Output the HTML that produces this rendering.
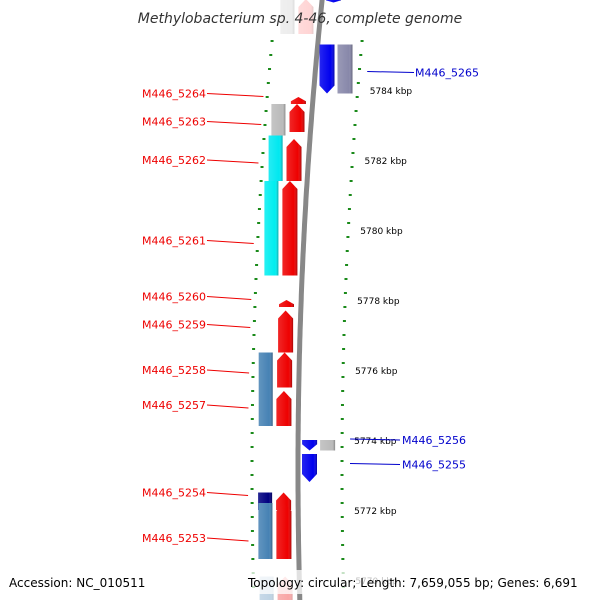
<!DOCTYPE html>
<html><head><meta charset="utf-8"><style>
body{margin:0;background:#fff}
svg text{font-family:"DejaVu Sans","Liberation Sans",sans-serif}
</style></head><body>
<svg id="map" width="600" height="600" viewBox="0 0 600 600" xmlns="http://www.w3.org/2000/svg">
<defs>
<linearGradient id="shade" x1="0" x2="1" y1="0" y2="0">
<stop offset="0" stop-color="#fff" stop-opacity="0.15"/><stop offset="0.75" stop-color="#fff" stop-opacity="0"/><stop offset="1" stop-color="#000" stop-opacity="0.3"/>
</linearGradient>
</defs>
<g id="ticks"></g>
<path id="backbone" fill="none" stroke="#888" stroke-width="5"/>
<g id="genes"></g>
<g id="labels"></g>
<text x="300" y="23" text-anchor="middle" font-size="14" font-style="italic" fill="#333">Methylobacterium sp. 4-46, complete genome</text>
<rect x="0" y="570" width="600" height="24" fill="#fff" opacity="0.75"/>
<text x="9" y="587" font-size="12" fill="#000">Accession: NC_010511</text>
<text x="248" y="587" font-size="12" fill="#000">Topology: circular; Length: 7,659,055 bp; Genes: 6,691</text>
</svg>
<script>
const tickKbp=[5784,5782,5780,5778,5776,5774,5772,5770];
const geneNames=["top-a","top-b","M446_5265","M446_5265b","top-c","M446_5264","M446_5263","M446_5263b","M446_5262","M446_5262b","M446_5261","M446_5261b","M446_5260","M446_5259","M446_5258","M446_5258b","M446_5257","M446_5256","M446_5256b","M446_5255","M446_5254","M446_5254b","M446_5253","M446_5253b","bot-a","bot-b"];
const geneStart=[5786.6,5786.6,5785.3,5785.3,5786.6,5783.8,5783.6,5783.6,5782.7,5782.6,5781.4,5781.4,5778.0,5777.7,5776.5,5776.5,5775.4,5774.0,5774.0,5773.6,5772.5,5772.5,5772.2,5772.2,5770.1,5770.1];
const geneEnd=[5785.6,5785.6,5783.9,5783.9,5786.5,5783.6,5782.7,5782.8,5781.4,5781.4,5778.7,5778.7,5777.8,5776.5,5774.4,5775.5,5774.4,5773.7,5773.7,5772.8,5772.0,5772.0,5770.6,5770.6,5769.2,5769.2];
const geneTrack=[-2,-1,1,2,1,-1,-2,-1,-2,-1,-2,-1,-1,-1,-2,-1,-1,1,2,1,-2,-1,-2,-1,-2,-1];
const geneColor=["#ccc","#f88","#0000ee","#8888aa","#0000ee","#e00","#bbb","#e00","#00e8f0","#e00","#00eef0","#e00","#e00","#e00","#4682b4","#e00","#e00","#0000ee","#bbb","#0000ee","#000080","#e00","#4682b4","#e00","#4682b4","#e00"];
const geneArrow=[0,1,-1,0,-1,1,0,1,0,1,0,1,1,1,0,1,1,-1,0,-1,0,1,0,1,0,1];
const geneFade=[1,1,0,0,0,0,0,0,0,0,0,0,0,0,0,0,0,0,0,0,0,0,0,0,1,1];
const leftLabels=["M446_5264","M446_5263","M446_5262","M446_5261","M446_5260","M446_5259","M446_5258","M446_5257","M446_5254","M446_5253"];
const leftLabelKbp=[5783.9,5783.1,5782.0,5779.7,5778.1,5777.3,5776.0,5775.0,5772.5,5771.2];
const rightLabels=["M446_5265","M446_5256","M446_5255"];
const rightLabelKbp=[5784.5,5774.0,5773.3];

const NS="http://www.w3.org/2000/svg";
const yOf=k=>90+(5784-k)*35;
const xb=y=>298+1.09e-4*(y-470)*(y-470);
function mk(t,a,p){const e=document.createElementNS(NS,t);for(const k in a)e.setAttribute(k,a[k]);p.appendChild(e);return e;}
// backbone
let d="";for(let y=-5;y<=605;y+=5)d+=(y<0?"M":"L")+xb(y).toFixed(1)+","+y+" ";
document.getElementById('backbone').setAttribute('d',d);
// ticks
const tg=document.getElementById('ticks');
for(let i=0;i<60;i++){
  const k=5787-i*0.4;const y=yOf(k);if(y<30||y>600)continue;
  const major=Math.abs(k-Math.round(k))<0.01&&Math.round(k)%2===0;
  const w=major?7:3;const xl=xb(y)-46,xr=xb(y)+44;
  const a=mk('rect',{x:xl-w/2,y:y-1,width:w,height:2,fill:'#1a8a1a'},tg);
  
  
  const b=mk('rect',{x:xr-w/2,y:y-1,width:w,height:2,fill:'#1a8a1a'},tg);
  
  
}
tickKbp.forEach(k=>{const y=yOf(k);
  const t=mk('text',{x:xb(y)+56,y:y+4,'font-size':9,fill:'#000'},tg);t.textContent=k+" kbp";
  
  
});
// genes
const gg=document.getElementById('genes');
geneNames.forEach((n,i)=>{
  const y1=yOf(geneStart[i]),y2=yOf(geneEnd[i]);const ym=(y1+y2)/2;const c=xb(ym);
  const tr=geneTrack[i];
  const off={'-2':[-40,-26],'-1':[-22,-7],'1':[4,19],'2':[22,37]}[tr];
  const x1=c+off[0],x2=c+off[1];const h=y2-y1;const ah=Math.min(8,h*0.6);
  let pts;
  if(geneArrow[i]===1)pts=[[x1,y2],[x1,y1+ah],[(x1+x2)/2,y1],[x2,y1+ah],[x2,y2]];
  else if(geneArrow[i]===-1)pts=[[x1,y1],[x2,y1],[x2,y2-ah],[(x1+x2)/2,y2],[x1,y2-ah]];
  else pts=[[x1,y1],[x2,y1],[x2,y2],[x1,y2]];
  const g=mk('g',{opacity:geneFade[i]?0.35:1},gg);
  
  
  const ps=pts.map(p=>p.map(v=>v.toFixed(1)).join(',')).join(' ');
  mk('polygon',{points:ps,fill:geneColor[i]},g);
  mk('polygon',{points:ps,fill:'url(#shade)'},g);
});
// labels
const lg=document.getElementById('labels');
leftLabels.forEach((n,i)=>{const y=yOf(leftLabelKbp[i]);
  const t=mk('text',{x:206,y:y+4,'text-anchor':'end','font-size':11,fill:'#e00'},lg);t.textContent=n;
  
  
  const l=mk('line',{x1:207,y1:y,x2:xb(y)-50,y2:y+3,stroke:'#e00','stroke-width':1},lg);
  
  
});
rightLabels.forEach((n,i)=>{const y=yOf(rightLabelKbp[i]);
  const t=mk('text',{x:i===0?415:402,y:y+4,'font-size':11,fill:'#0000cc'},lg);t.textContent=n;
  
  
  const l=mk('line',{x1:xb(y)+52,y1:y-1,x2:i===0?414:400,y2:y,stroke:'#0000cc','stroke-width':1},lg);
  
  
});
</script>
</body></html>
